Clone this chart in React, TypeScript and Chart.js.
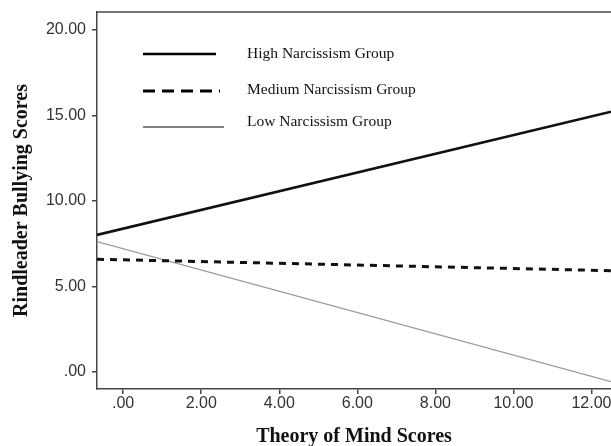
import React, { useEffect, useRef } from "react";
import { Chart, registerables } from "chart.js";

Chart.register(...registerables);

const theoryOfMind = [-0.67, 12.5];
const highNarcissism = [8.01, 15.22];
const mediumNarcissism = [6.59, 5.92];
const lowNarcissism = [7.62, -0.57];
const xTicks = [0, 2, 4, 6, 8, 10, 12];
const yTicks = [0, 5, 10, 15, 20];
const seriesNames = ["High Narcissism Group", "Medium Narcissism Group", "Low Narcissism Group"];

const fmt = (v: number) => (v === 0 ? ".00" : v.toFixed(2));

const legendPlugin = {
  id: "insideLegend",
  afterDraw(chart: any) {
    const { ctx, chartArea } = chart;
    ctx.save();
    // top frame line
    ctx.strokeStyle = "#444";
    ctx.lineWidth = 1.5;
    ctx.beginPath();
    ctx.moveTo(chartArea.left, chartArea.top);
    ctx.lineTo(chartArea.right, chartArea.top);
    ctx.stroke();

    const rows = [
      { y: 54, ty: 54, width: 2.5, dash: [] as number[], x2: 216 },
      { y: 91, ty: 90, width: 3, dash: [12, 7], x2: 220 },
      { y: 127, ty: 122, width: 1.2, dash: [] as number[], x2: 224 },
    ];
    rows.forEach((r, i) => {
      ctx.strokeStyle = "#000";
      ctx.lineWidth = r.width;
      ctx.setLineDash(r.dash);
      ctx.beginPath();
      ctx.moveTo(143, r.y);
      ctx.lineTo(r.x2, r.y);
      ctx.stroke();
      ctx.setLineDash([]);
      ctx.fillStyle = "#111";
      ctx.font = "15.5px 'Liberation Serif', serif";
      ctx.textBaseline = "middle";
      ctx.textAlign = "left";
      ctx.fillText(seriesNames[i], 247, r.ty);
    });
    ctx.restore();
  },
};

export default function App() {
  const ref = useRef<HTMLCanvasElement>(null);
  useEffect(() => {
    const toPts = (ys: number[]) => ys.map((y, i) => ({ x: theoryOfMind[i], y }));
    const chart = new Chart(ref.current!, {
      type: "line",
      data: {
        datasets: [
          { label: seriesNames[0], data: toPts(highNarcissism), borderColor: "#111", borderWidth: 2.6, pointRadius: 0 },
          { label: seriesNames[1], data: toPts(mediumNarcissism), borderColor: "#111", borderWidth: 3, borderDash: [7, 6], pointRadius: 0 },
          { label: seriesNames[2], data: toPts(lowNarcissism), borderColor: "#9a9a9a", borderWidth: 1.2, pointRadius: 0 },
        ],
      },
      options: {
        animation: false,
        responsive: false,
        layout: { padding: { top: 12, right: 0, left: 0, bottom: 0 } },
        plugins: { legend: { display: false }, tooltip: { enabled: false } },
        scales: {
          x: {
            type: "linear",
            min: theoryOfMind[0],
            max: theoryOfMind[1],
            afterBuildTicks: (s: any) => { s.ticks = xTicks.map((v) => ({ value: v })); },
            afterFit: (s: any) => { s.height = 57; s.paddingLeft = 0; s.paddingRight = 0; },
            ticks: { callback: (v: any) => fmt(Number(v)), color: "#333", font: { family: "'Liberation Sans', Arial", size: 16 }, padding: 0, maxRotation: 0 },
            grid: { drawOnChartArea: false, drawTicks: true, tickLength: 5, color: "#444", lineWidth: 1.5 },
            border: { display: true, color: "#444", width: 1.5 },
            title: { display: true, text: "Theory of Mind Scores", color: "#111", font: { family: "'Liberation Serif', serif", size: 20, weight: "bold", lineHeight: 0.9 }, padding: { top: 0, bottom: 0 } },
          },
          y: {
            type: "linear",
            min: -1,
            max: 21.05,
            afterBuildTicks: (s: any) => { s.ticks = yTicks.map((v) => ({ value: v })); },
            afterFit: (s: any) => { s.width = 97; s.paddingTop = 0; s.paddingBottom = 0; },
            ticks: { callback: (v: any) => fmt(Number(v)), color: "#333", font: { family: "'Liberation Sans', Arial", size: 16 }, padding: 6 },
            grid: { drawOnChartArea: false, drawTicks: true, tickLength: 5, color: "#444", lineWidth: 1.5 },
            border: { display: true, color: "#444", width: 1.5 },
            title: { display: true, text: "Rindleader Bullying Scores", color: "#111", font: { family: "'Liberation Serif', serif", size: 20, weight: "bold", lineHeight: 1 }, padding: { top: 12, bottom: 0 } },
          },
        },
      },
      plugins: [legendPlugin],
    } as any);
    return () => chart.destroy();
  }, []);
  return (
    <div style={{ position: "absolute", left: 0, top: 0, width: 611, height: 446, background: "#fff" }}>
      <canvas ref={ref} width={611} height={446} />
    </div>
  );
}
